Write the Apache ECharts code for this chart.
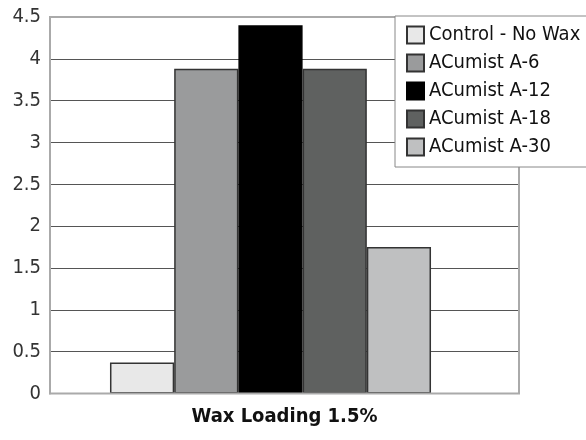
<!DOCTYPE html>
<html>
<head>
<meta charset="utf-8">
<script src="https://cdn.jsdelivr.net/npm/echarts@6/dist/echarts.min.js"></script>
<style>
html,body{margin:0;padding:0;background:#fff;}
#chart{width:586px;height:440px;}
</style>
</head>
<body>
<div id="chart"></div>
<script>
var categories = ['Wax Loading 1.5%'];
var seriesNames = ['Control - No Wax', 'ACumist A-6', 'ACumist A-12', 'ACumist A-18', 'ACumist A-30'];
var seriesValues = [[0.37], [3.88], [4.40], [3.88], [1.75]];
var seriesColors = ['#e8e8e8', '#9a9b9c', '#000000', '#5f6160', '#bfc0c1'];
var yTicks = [0, 0.5, 1, 1.5, 2, 2.5, 3, 3.5, 4, 4.5];

var FONT = '"Liberation Sans Narrow", "DejaVu Sans Condensed", sans-serif';
var chart = echarts.init(document.getElementById('chart'));

var series = seriesNames.map(function (n, i) {
  return {
    name: n,
    type: 'bar',
    xAxisIndex: 1,
    yAxisIndex: 1,
    data: seriesValues[i],
    barGap: '0%',
    barCategoryGap: '27.2%',
    itemStyle: {color: seriesColors[i], borderColor: i === 2 ? '#000' : '#333', borderWidth: 1.5},
    emphasis: {disabled: true}
  };
});

chart.setOption({
  animation: false,
  backgroundColor: '#fff',
  textStyle: {fontFamily: FONT},
  grid: [
    {left: 50, right: 67, top: 17, bottom: 46.5, show: true, borderColor: '#aaaaaa', borderWidth: 2, z: 3},
    {left: 50, right: 95, top: 17, bottom: 46.5, show: false}
  ],
  legend: {
    data: seriesNames,
    icon: 'rect',
    orient: 'vertical',
    left: 395,
    top: 16,
    padding: [9, 30, 10, 11],
    itemWidth: 17,
    itemHeight: 17,
    itemGap: 8,
    backgroundColor: '#fff',
    borderColor: '#888',
    borderWidth: 1,
    z: 10,
    textStyle: {fontFamily: FONT, fontSize: 20, color: '#111'},
    selectedMode: false
  },
  xAxis: [
    {type: 'category', gridIndex: 0, data: categories,
     axisLine: {show: false}, axisTick: {show: false},
     axisLabel: {fontFamily: FONT, fontSize: 20, fontWeight: 'bold', color: '#111', margin: 13}},
    {type: 'category', gridIndex: 1, data: categories,
     axisLine: {show: false}, axisTick: {show: false}, axisLabel: {show: false}}
  ],
  yAxis: [
    {type: 'value', gridIndex: 0, min: 0, max: 4.5, interval: 0.5,
     axisLine: {show: true, lineStyle: {color: '#aaaaaa', width: 2}},
     axisTick: {show: false},
     splitLine: {show: true, lineStyle: {color: '#555', width: 1}},
     axisLabel: {fontFamily: FONT, fontSize: 20, color: '#333', margin: 9,
       formatter: function (v) { return yTicks.indexOf(v) >= 0 ? String(v) : ''; }}},
    {type: 'value', gridIndex: 1, min: 0, max: 4.5, interval: 0.5,
     axisLine: {show: false}, axisTick: {show: false}, splitLine: {show: false}, axisLabel: {show: false}}
  ],
  series: series
});
</script>
</body>
</html>
